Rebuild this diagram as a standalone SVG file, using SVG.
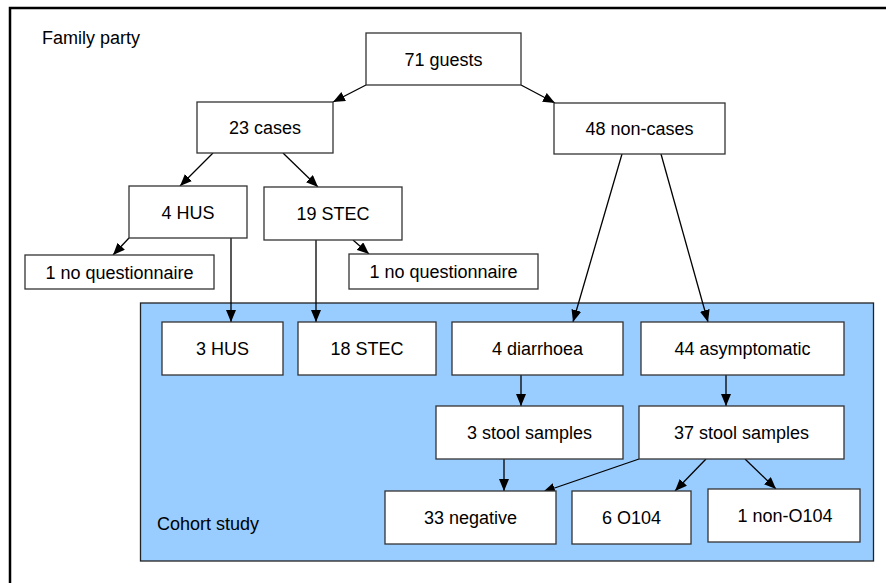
<svg xmlns="http://www.w3.org/2000/svg" width="886" height="583" viewBox="0 0 886 583">
<defs>
<style>
.box{fill:#fff;stroke:#333;stroke-width:1.3}
.t{font-family:"Liberation Sans",Arial,sans-serif;font-size:18px;fill:#000;text-anchor:middle}
.l{font-family:"Liberation Sans",Arial,sans-serif;font-size:18px;fill:#000}
.c{stroke:#000;stroke-width:1.3;fill:none;marker-end:url(#ah)}
</style>
<marker id="ah" viewBox="0 0 12 10" refX="12" refY="5" markerWidth="12" markerHeight="10" markerUnits="userSpaceOnUse" orient="auto">
<path d="M0,0 L12,5 L0,10 Z" fill="#000"/>
</marker>
</defs>
<rect x="0" y="0" width="886" height="583" fill="#fff"/>
<rect x="10" y="8" width="900" height="600" fill="none" stroke="#000" stroke-width="2.5"/>
<text class="l" x="42" y="44">Family party</text>
<g id="cohort">
<rect x="140.5" y="303" width="733" height="258" fill="#99CCFF" stroke="#222" stroke-width="1.3"/>
<text class="l" x="157" y="530">Cohort study</text>
</g>
<g id="connectors">
<line class="c" x1="366" y1="85" x2="333" y2="102"/>
<line class="c" x1="521" y1="85" x2="555" y2="103"/>
<line class="c" x1="213" y1="153" x2="180" y2="186"/>
<line class="c" x1="283" y1="153" x2="318" y2="187"/>
<line class="c" x1="129" y1="238" x2="113" y2="255"/>
<line class="c" x1="353" y1="240" x2="369" y2="254"/>
<line class="c" x1="231" y1="238" x2="231" y2="322"/>
<line class="c" x1="316" y1="240" x2="316" y2="322"/>
<line class="c" x1="622" y1="154" x2="573" y2="322"/>
<line class="c" x1="661" y1="154" x2="708" y2="322"/>
<line class="c" x1="521" y1="375" x2="521" y2="406"/>
<line class="c" x1="726" y1="375" x2="726" y2="406"/>
<line class="c" x1="504" y1="459" x2="504" y2="491"/>
<line class="c" x1="639" y1="459" x2="543" y2="492"/>
<line class="c" x1="706" y1="459" x2="675" y2="491"/>
<line class="c" x1="745" y1="459" x2="776" y2="489"/>
</g>
<g id="n71"><rect class="box" x="366" y="33" width="155" height="52"/><text class="t" x="443.5" y="65.5">71 guests</text></g>
<g id="n23"><rect class="box" x="197" y="102" width="136" height="51"/><text class="t" x="265" y="134">23 cases</text></g>
<g id="n48"><rect class="box" x="554" y="103" width="171" height="51"/><text class="t" x="639.5" y="135">48 non-cases</text></g>
<g id="n4hus"><rect class="box" x="129" y="186" width="118" height="52"/><text class="t" x="188" y="218.5">4 HUS</text></g>
<g id="n19stec"><rect class="box" x="264" y="187" width="138" height="53"/><text class="t" x="333" y="220">19 STEC</text></g>
<g id="nq1"><rect class="box" x="25" y="255" width="189" height="34"/><text class="t" x="119.5" y="278.5">1 no questionnaire</text></g>
<g id="nq2"><rect class="box" x="349" y="254" width="189" height="35"/><text class="t" x="443.5" y="278">1 no questionnaire</text></g>
<g id="n3hus"><rect class="box" x="162" y="322" width="121" height="53"/><text class="t" x="222.5" y="355">3 HUS</text></g>
<g id="n18stec"><rect class="box" x="298" y="322" width="138" height="53"/><text class="t" x="367" y="355">18 STEC</text></g>
<g id="ndia"><rect class="box" x="452" y="322" width="171" height="53"/><text class="t" x="537.5" y="355">4 diarrhoea</text></g>
<g id="nasym"><rect class="box" x="641" y="322" width="203" height="53"/><text class="t" x="742.5" y="355">44 asymptomatic</text></g>
<g id="ns3"><rect class="box" x="436" y="406" width="187" height="53"/><text class="t" x="529.5" y="439">3 stool samples</text></g>
<g id="ns37"><rect class="box" x="639" y="406" width="205" height="53"/><text class="t" x="741.5" y="439">37 stool samples</text></g>
<g id="nneg"><rect class="box" x="385" y="491" width="171" height="53"/><text class="t" x="470.5" y="524">33 negative</text></g>
<g id="no104"><rect class="box" x="572" y="491" width="119" height="53"/><text class="t" x="631.5" y="524">6 O104</text></g>
<g id="nnon"><rect class="box" x="708" y="489" width="152" height="53"/><text class="t" x="785" y="522">1 non-O104</text></g>
</svg>
